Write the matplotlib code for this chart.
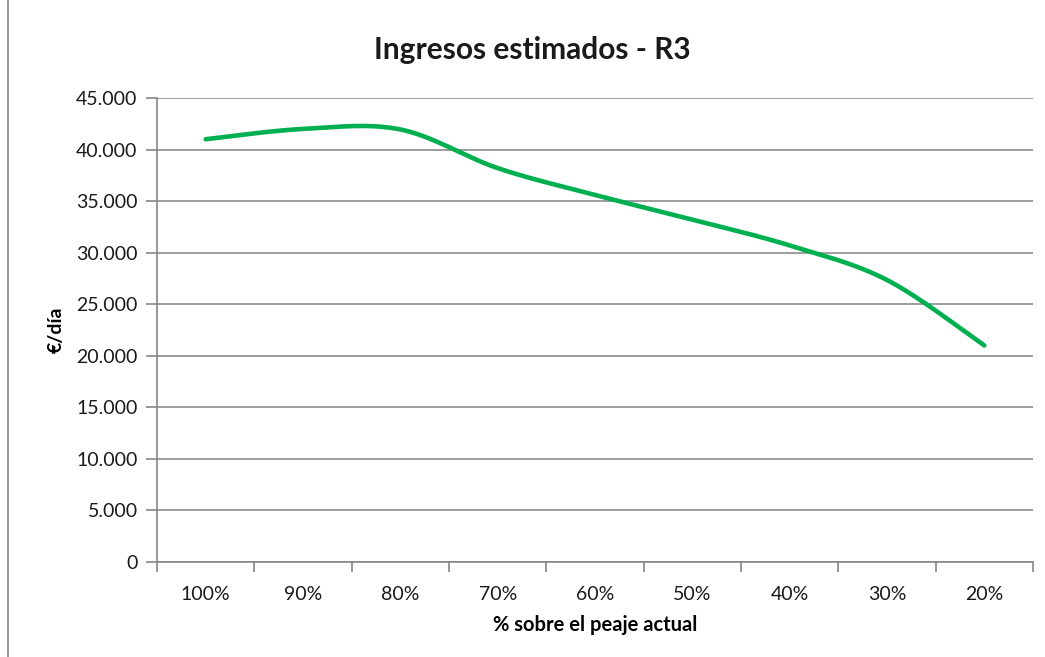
import matplotlib.pyplot as plt
import numpy as np
from matplotlib.ticker import FuncFormatter, MultipleLocator
from matplotlib.lines import Line2D

categories = ["100%", "90%", "80%", "70%", "60%", "50%", "40%", "30%", "20%"]
ingresos = [41000, 42000, 41950, 38200, 35600, 33200, 30700, 27350, 21000]

plt.rcParams['font.family'] = ['Lato', 'DejaVu Sans']


def smooth(x, y, n=30):
    # Catmull-Rom style smoothing, like the spreadsheet's smoothed line
    x = np.asarray(x, float)
    y = np.asarray(y, float)
    px = np.concatenate([[x[0]], x, [x[-1]]])
    py = np.concatenate([[y[0]], y, [y[-1]]])
    xs, ys = [], []
    t = np.linspace(0, 1, n)
    for i in range(1, len(px) - 2):
        p0, p1, p2, p3 = (np.array([px[j], py[j]]) for j in range(i - 1, i + 3))
        c1 = p1 + (p2 - p0) / 6
        c2 = p2 - (p3 - p1) / 6
        b = ((1 - t) ** 3)[:, None] * p1 + (3 * (1 - t) ** 2 * t)[:, None] * c1 \
            + (3 * (1 - t) * t ** 2)[:, None] * c2 + (t ** 3)[:, None] * p2
        xs.extend(b[:, 0])
        ys.extend(b[:, 1])
    return np.array(xs), np.array(ys)


fig = plt.figure(figsize=(10.45, 6.57), dpi=100)
ax = fig.add_axes([157 / 1045, 1 - 562 / 657, (1033 - 157) / 1045, (562 - 98) / 657])

pos = np.arange(len(categories))
sx, sy = smooth(pos, ingresos)
ax.plot(sx, sy, color='#00B050', lw=3.3, solid_capstyle='round')

ax.set_xlim(-0.5, len(categories) - 0.5)
ax.set_ylim(0, 45000)
ax.yaxis.set_major_locator(MultipleLocator(5000))
ax.yaxis.set_major_formatter(FuncFormatter(lambda v, p: f"{int(v):,}".replace(",", ".")))

ax.set_xticks(np.arange(-0.5, len(categories)), labels=[])
ax.set_xticks(pos, labels=categories, minor=True)
ax.tick_params(axis='x', which='major', length=7, color='#868686', width=1.2)
ax.tick_params(axis='x', which='minor', length=0, pad=17, labelsize=14, labelcolor='#1a1a1a')
ax.tick_params(axis='y', length=8, color='#868686', width=1.2, labelsize=14,
               labelcolor='#1a1a1a', pad=6)

ax.grid(axis='y', color='#8c8c8c', lw=1.2)
ax.set_axisbelow(True)
for s in ['top', 'right']:
    ax.spines[s].set_visible(False)
for s in ['left', 'bottom']:
    ax.spines[s].set_color('#868686')
    ax.spines[s].set_linewidth(1.2)

fig.text(532 / 1045, 1 - 50 / 657, "Ingresos estimados - R3", fontsize=21.5,
         fontweight='bold', color='#1a1a1a', ha='center', va='center')
ax.set_xlabel("% sobre el peaje actual", fontsize=14.5, fontweight='bold', labelpad=9)
ax.set_ylabel("€/día", fontsize=14, fontweight='bold', labelpad=8)

fig.add_artist(Line2D([7.5 / 1045, 7.5 / 1045], [0, 1], color='#868686', lw=1.2))

fig.savefig("out.png", dpi=100)
